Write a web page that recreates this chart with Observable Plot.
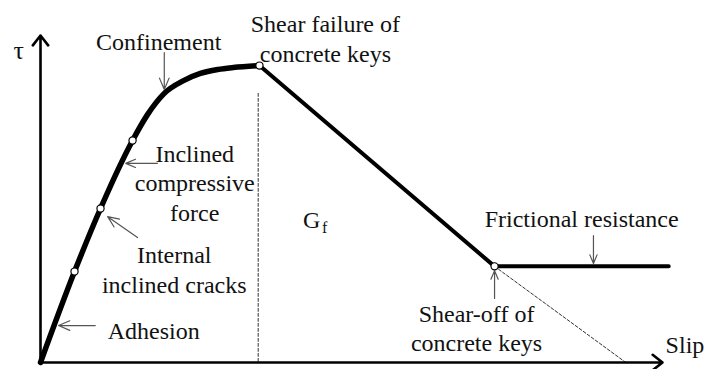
<!DOCTYPE html>
<html>
<head>
<meta charset="utf-8">
<script src="https://cdn.jsdelivr.net/npm/d3@7"></script>
<script src="https://cdn.jsdelivr.net/npm/@observablehq/plot@0.6"></script>
<style>
  html, body { margin: 0; padding: 0; background: #fff; }
  #chart svg { display: block; }
</style>
</head>
<body>
<div id="chart"></div>
<script>
// Bond stress (τ) versus slip of a keyed concrete joint, in relative units (0–100).

// Ascending branch: adhesion → internal cracking → compressive struts → confinement
const riseSlip = [0, 5.47, 9.65, 14.8, 17.2, 19.9, 23.0, 25.7, 28.5, 31.0, 35.2];
const riseTau  = [0, 27.8, 47.1, 67.9, 75.8, 82.3, 86.2, 88.4, 89.6, 90.2, 90.8];

// Softening after shear failure of the keys, then residual friction plateau
const postSlip = [35.2, 73.0, 101.0];
const postTau  = [90.8, 29.4, 29.4];

// Softening line extended down to zero stress
const extSlip = [73.0, 94.1];
const extTau  = [29.4, 0];

// Boundary of the fracture-energy region G_f (dashed)
const gfSlip = [35.0, 35.0];
const gfTau  = [82.3, 0];

// Stage points marked on the curve
const stageSlip = [5.47, 9.65, 14.8, 35.2, 73.0];
const stageTau  = [27.8, 47.1, 67.9, 90.8, 29.4];

// Stage labels
const labelText = [
  "Confinement",
  "Shear failure of\nconcrete keys",
  "Inclined\ncompressive\nforce",
  "Internal\ninclined cracks",
  "Adhesion",
  "Frictional resistance",
  "Shear-off of\nconcrete keys"
];
const labelSlip = [19.0, 45.8, 24.8, 21.5, 18.2, 87.0, 70.1];
const labelTau  = [98.5, 99.4, 55.2, 28.7, 10.1, 44.3, 10.7];
const labelLead = [1.25, 1.25, 1.23, 1.25, 1.25, 1.25, 1.17];

// Pointer arrows from labels to the curve
const pointerFromSlip = [19.9, 18.8, 15.6, 8.8, 88.9, 73.0];
const pointerFromTau  = [94.8, 60.9, 38.2, 11.3, 38.8, 19.6];
const pointerToSlip   = [19.9, 13.7, 10.8, 2.9, 88.9, 73.0];
const pointerToTau    = [83.5, 60.9, 44.6, 11.3, 30.3, 28.1];

const toPoints = (xs, ys) => xs.map((x, i) => ({x, y: ys[i]}));

const labels = labelText.map((text, i) => ({text, x: labelSlip[i], y: labelTau[i], lead: labelLead[i]}));
const leads = [...new Set(labelLead)];
const pointers = pointerFromSlip.map((x1, i) => ({
  x1, y1: pointerFromTau[i], x2: pointerToSlip[i], y2: pointerToTau[i]
}));
const axes = [
  {x1: 0, y1: 0, x2: 100, y2: 0},
  {x1: 0, y1: 0, x2: 0, y2: 100}
];

const serif = "'Liberation Serif', 'Times New Roman', Times, serif";

const chart = Plot.plot({
  width: 704,
  height: 369,
  marginLeft: 40,
  marginRight: 42,
  marginTop: 35,
  marginBottom: 7,
  x: {domain: [0, 100], axis: null},
  y: {domain: [0, 100], axis: null},
  style: {fontFamily: serif, background: "#fff", overflow: "visible"},
  marks: [
    // dashed guides
    Plot.line(toPoints(gfSlip, gfTau), {x: "x", y: "y", stroke: "#333", strokeWidth: 1, strokeDasharray: "3,2"}),
    Plot.line(toPoints(extSlip, extTau), {x: "x", y: "y", stroke: "#333", strokeWidth: 1, strokeDasharray: "3,2"}),

    // axes with arrowheads
    Plot.arrow(axes, {x1: "x1", y1: "y1", x2: "x2", y2: "y2", stroke: "#000", strokeWidth: 2.6, headLength: 7.2, headAngle: 76}),

    // bond–slip curve
    Plot.line(toPoints(riseSlip, riseTau), {x: "x", y: "y", curve: "monotone-x", stroke: "#000", strokeWidth: 5.5, strokeLinejoin: "round"}),
    Plot.line(toPoints(postSlip, postTau), {x: "x", y: "y", stroke: "#000", strokeWidth: 4, strokeLinejoin: "miter"}),

    // pointers
    Plot.arrow(pointers, {x1: "x1", y1: "y1", x2: "x2", y2: "y2", stroke: "#555", strokeWidth: 1.2, headLength: 16, headAngle: 46}),

    // stage points
    Plot.dot(toPoints(stageSlip, stageTau), {x: "x", y: "y", r: 3.6, fill: "#fff", stroke: "#000", strokeWidth: 1.2}),

    // labels, one mark per line spacing
    ...leads.map(lead => Plot.text(labels.filter(d => d.lead === lead), {
      x: "x", y: "y", text: "text", lineHeight: lead, fontSize: 24, fill: "#111",
      textAnchor: "middle", lineAnchor: "middle"
    })),

    // region and axis names
    Plot.text(["G"], {x: 43.6, y: 43.4, text: d => d, fontSize: 24, fill: "#111"}),
    Plot.text(["f"], {x: 45.7, y: 41.3, text: d => d, fontSize: 16, fill: "#111"}),
    Plot.text(["Slip"], {x: 100.5, y: 5.2, text: d => d, fontSize: 24, fill: "#111", textAnchor: "start"}),
    Plot.text(["τ"], {x: -3.5, y: 95.4, text: d => d, fontSize: 26, fill: "#111"})
  ]
});

document.getElementById("chart").appendChild(chart);
</script>
</body>
</html>
